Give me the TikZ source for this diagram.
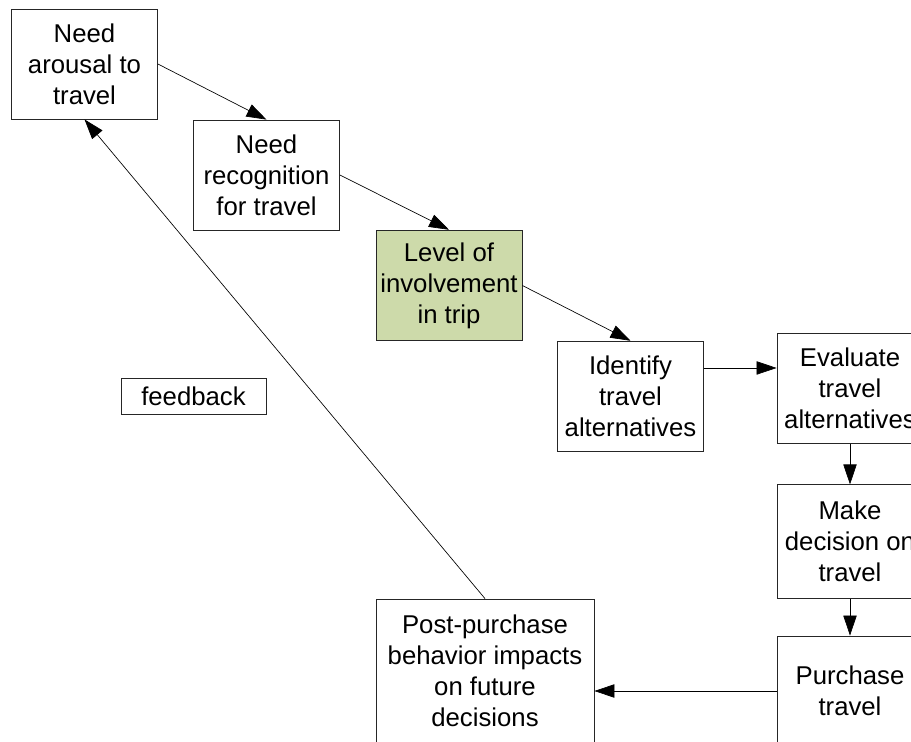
\documentclass[tikz,border=0pt]{standalone}
\usepackage{fontspec}
\setmainfont{Liberation Sans}
\usetikzlibrary{arrows.meta}
\definecolor{involvegreen}{RGB}{205,218,170}

\begin{document}
\begin{tikzpicture}[
  x=0.75pt, y=-0.75pt,
  every node/.style={
    font=\fontsize{19.3}{23.3}\selectfont,
    align=center,
    inner sep=0pt,
  },
  stage/.style={draw=black!85, line width=0.6pt, fill=white,
    minimum width=109.5pt, minimum height=82.5pt},
  greenstage/.style={stage, fill=involvegreen},
  flow/.style={draw, line width=0.5pt, -{Triangle[length=15pt,width=10pt]}},
  ]
  \useasboundingbox (0,0) rectangle (911,742);
  \fill[white] (0,0) rectangle (911,742);
  \clip (0,0) rectangle (911,742);

  % stages of the travel decision
  \node[stage] (arousal) at (84.5,64) {Need\\arousal to\\travel};
  \node[stage] (recognition) at (266.5,175) {Need\\recognition\\for travel};
  \node[greenstage, minimum height=83pt] (involvement) at (449,285.5) {Level of\\involvement\\in trip};
  \node[stage, minimum height=83pt] (identify) at (630.5,396.5) {Identify\\travel\\alternatives};
  \node[stage, minimum height=83pt] (evaluate) at (850,388.5) {Evaluate\\travel\\alternatives};
  \node[stage, minimum height=85pt] (decision) at (850,541.5) {Make\\decision on\\travel};
  \node[stage] (purchase) at (850,691) {Purchase\\travel};
  \node[stage, minimum width=163.5pt, minimum height=108pt] (postpurchase) at (485,671)
    {Post-purchase\\behavior impacts\\on future\\decisions};
  \node[stage, minimum width=108.75pt, minimum height=27pt] (feedback) at (193.5,396) {feedback};

  % connectors
  \draw[flow] (arousal.east) -- (recognition.north);
  \draw[flow] (recognition.east) -- (involvement.north);
  \draw[flow] (involvement.east) -- (identify.north);
  \draw[flow] ([yshift=21.4pt]identify.east) -- ([yshift=21.4pt]identify.east -| evaluate.west);
  \draw[flow] (evaluate.south) -- (decision.north);
  \draw[flow] (decision.south) -- (purchase.north);
  \draw[flow] (purchase.west) -- (purchase.west -| postpurchase.east);
  \draw[flow] (postpurchase.north) -- (arousal.south);
\end{tikzpicture}
\end{document}
